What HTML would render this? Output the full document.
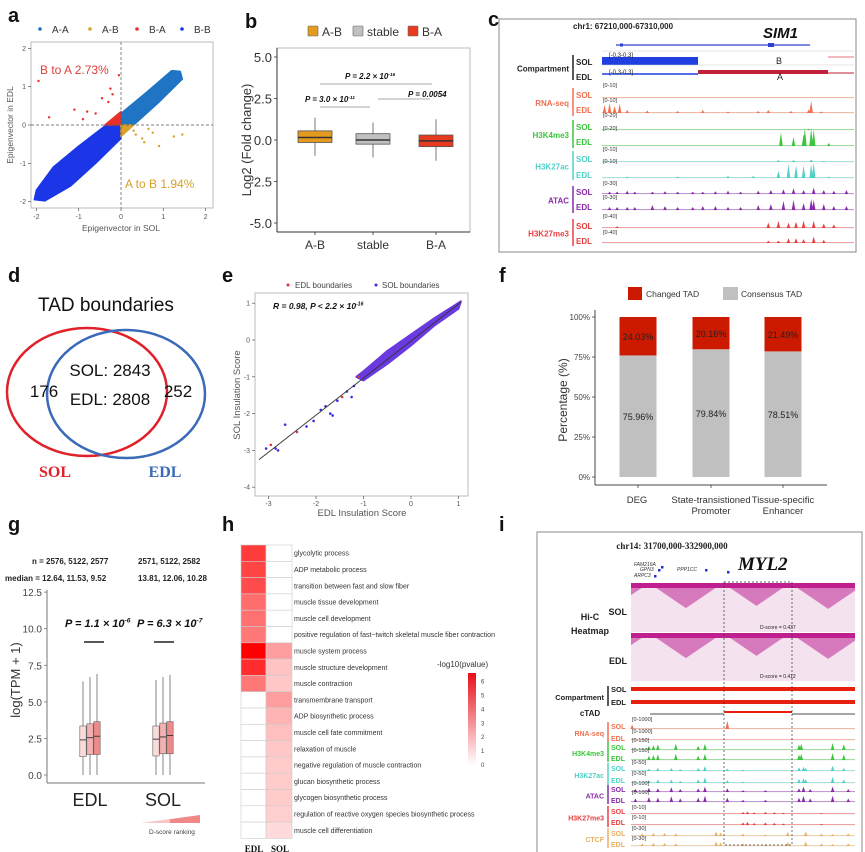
<!DOCTYPE html>
<html><head><meta charset="utf-8">
<style>
html,body{margin:0;padding:0;background:#fff;}
svg{display:block;font-family:"Liberation Sans",Arial,sans-serif;}
</style></head>
<body>
<svg id="fig" width="865" height="852" viewBox="0 0 865 852" xmlns="http://www.w3.org/2000/svg"></svg>
<script>
// ---------- DATA ----------
const aCategories = ['A-A','A-B','B-A','B-B'];
const aColors = ['#1f74c4','#d9a02a','#e8302a','#1a36e6'];
const aBandAA = [[0,0],[0,0.3],[0.6,0.85],[1.2,1.42],[1.4,1.4],[1.45,1.2],[0.9,0.6],[0.3,0]];
const aBandBB = [[0,0],[-0.35,0],[-1.0,-0.55],[-1.6,-1.1],[-2.0,-1.7],[-2.05,-1.95],[-1.8,-1.98],[-1.2,-1.6],[-0.6,-1.0],[0,-0.35]];
const aBandBA = [[0,0],[-0.38,0],[0,0.35]];
const aBandAB = [[0,0],[0.3,0],[0,-0.3]];
const aOutBAx = [-1.95,-1.7,-1.1,-0.8,-0.6,-0.3,-0.2,-0.05,-0.9,-0.45,-0.25];
const aOutBAy = [1.15,0.2,0.4,0.35,0.3,0.6,0.8,1.3,0.15,0.7,0.95];
const aOutABx = [0.35,0.5,0.55,0.75,0.9,1.25,1.45,0.3,0.65];
const aOutABy = [-0.25,-0.35,-0.45,-0.2,-0.55,-0.3,-0.25,-0.15,-0.1];
const aTicks = [-2,-1,0,1,2];
const bCategories = ['A-B','stable','B-A'];
const bColors = ['#e39a1e','#c0c0c0','#e83a20'];
const bQ1 = [-0.15,-0.25,-0.4];
const bMed = [0.15,0.0,-0.05];
const bQ3 = [0.55,0.38,0.3];
const bLo = [-0.95,-1.05,-1.25];
const bHi = [1.35,1.05,1.25];
const bTicks = [5.0,2.5,0.0,-2.5,-5.0];
const eTicksX = [-3,-2,-1,0,1];
const eTicksY = [1,0,-1,-2,-3,-4];
const eBand = [[-1.0,-0.85],[-0.5,-0.3],[0,0.15],[0.5,0.6],[1.05,1.05],[1.0,0.85],[0.5,0.4],[0,-0.15],[-0.5,-0.65],[-1.0,-1.1],[-1.15,-1.0]];
const eOutX = [-3.05,-2.95,-2.85,-2.65,-2.4,-2.2,-2.05,-1.9,-1.8,-1.65,-1.55,-1.45,-1.35,-1.2,-2.8,-1.7,-1.25,-1.1];
const eOutY = [-2.95,-2.85,-2.95,-2.3,-2.5,-2.35,-2.2,-1.9,-1.8,-2.05,-1.65,-1.55,-1.4,-1.25,-3.0,-2.0,-1.55,-1.0];
const eOutC = [1,0,1,1,0,1,1,1,1,1,1,0,1,1,1,1,1,0];
const fCategories = [['DEG'],['State-transistioned','Promoter'],['Tissue-specific','Enhancer']];
const fChanged = [24.03,20.16,21.49];
const fConsensus = [75.96,79.84,78.51];
const fTicks = [100,75,50,25,0];
const gGroups = ['EDL','SOL'];
const gQ1 = [[1.25,1.4,1.4],[1.3,1.45,1.45]];
const gMed = [[2.4,2.55,2.65],[2.45,2.6,2.7]];
const gQ3 = [[3.35,3.5,3.65],[3.35,3.55,3.65]];
const gHi = [[6.4,6.7,6.9],[6.5,6.7,6.85]];
const gTicks = [12.5,10.0,7.5,5.0,2.5,0.0];
const hTerms = ['glycolytic process','ADP metabolic process','transition between fast and slow fiber','muscle tissue development','muscle cell development','positive regulation of fast−twitch skeletal muscle fiber contraction','muscle system process','muscle structure development','muscle contraction','transmembrane transport','ADP biosynthetic process','muscle cell fate commitment','relaxation of muscle','negative regulation of muscle contraction','glucan biosynthetic process','glycogen biosynthetic process','regulation of reactive oxygen species biosynthetic process','muscle cell differentiation'];
const hEDL = [5.2,5.0,4.8,3.9,3.8,3.6,6.8,5.6,3.6,0,0,0,0,0,0,0,0,0];
const hSOL = [0,0,0,0,0,0,2.6,1.6,1.5,2.6,2.0,1.7,1.5,1.4,1.4,1.4,1.3,1.0];
const hScaleTicks = [6,5,4,3,2,1,0];
const cRNA = [[0.01,0.8],[0.03,1],[0.05,0.7],[0.07,0.9],[0.1,0.3],[0.18,0.25],[0.3,0.2],[0.4,0.3],[0.5,0.15],[0.62,0.2],[0.66,0.3],[0.75,0.2],[0.82,0.35],[0.83,1.2],[0.87,0.15]];
const cK4 = [[0.71,0.9],[0.76,0.6],[0.8,0.8],[0.805,1.2],[0.83,1.2],[0.84,1.1],[0.9,0.2]];
const cK27sol = [[0.7,0.2],[0.76,0.2],[0.83,0.25],[0.88,0.1]];
const cK27 = [[0.1,0.1],[0.3,0.1],[0.5,0.15],[0.6,0.15],[0.7,0.5],[0.74,1.0],[0.77,0.9],[0.8,0.9],[0.83,1.0],[0.84,1.1],[0.9,0.1]];
const cATACsol = [[0.03,0.3],[0.06,0.3],[0.1,0.4],[0.13,0.3],[0.2,0.3],[0.25,0.35],[0.3,0.3],[0.36,0.3],[0.4,0.3],[0.45,0.35],[0.5,0.4],[0.55,0.3],[0.62,0.4],[0.67,0.5],[0.72,0.6],[0.76,0.7],[0.8,0.5],[0.84,0.8],[0.88,0.5],[0.92,0.4],[0.97,0.5]];
const cATAC = [[0.03,0.3],[0.06,0.3],[0.1,0.3],[0.13,0.3],[0.2,0.5],[0.25,0.4],[0.3,0.3],[0.36,0.3],[0.4,0.4],[0.45,0.4],[0.5,0.3],[0.55,0.3],[0.62,0.5],[0.67,0.6],[0.72,0.9],[0.76,1.0],[0.8,0.7],[0.83,1.1],[0.84,1.0],[0.88,0.6],[0.92,0.4],[0.97,0.4]];
const cK27me3sol = [[0.06,0.2],[0.66,0.6],[0.7,0.8],[0.74,0.6],[0.77,0.7],[0.8,0.8],[0.84,0.8],[0.88,0.5],[0.92,0.4]];
const cK27me3 = [[0.66,0.3],[0.7,0.3],[0.74,0.6],[0.77,0.6],[0.8,0.5],[0.84,0.8],[0.88,0.4]];
const iHiCDomainsStart = [-0.25,0.08,0.41,0.71];
const iHiCDomainsEnd = [0.08,0.41,0.71,1.05];
const iRNA = [[0.005,0.6],[0.43,1.2]];
const iK4 = [[0.08,0.6],[0.1,0.7],[0.12,0.8],[0.2,0.9],[0.3,0.6],[0.33,0.9],[0.75,0.8],[0.76,0.9],[0.9,1.0],[0.95,0.8]];
const iK27 = [[0.08,0.4],[0.12,0.5],[0.18,0.5],[0.22,0.3],[0.3,0.5],[0.33,0.8],[0.43,0.4],[0.5,0.2],[0.75,0.6],[0.77,0.7],[0.78,0.5],[0.9,0.9],[0.95,0.5]];
const iATAC = [[0.02,0.5],[0.08,0.7],[0.12,0.6],[0.18,0.8],[0.22,0.5],[0.3,0.6],[0.33,0.9],[0.43,0.6],[0.5,0.3],[0.6,0.3],[0.75,0.6],[0.77,0.9],[0.8,0.5],[0.9,0.9],[0.97,0.5]];
const iK27me3 = [[0.5,0.5],[0.52,0.6],[0.55,0.4],[0.6,0.5],[0.64,0.4],[0.68,0.3],[0.85,0.2]];
const iCTCF = [[0.05,0.5],[0.1,0.6],[0.15,0.6],[0.2,0.5],[0.38,0.9],[0.4,0.7],[0.5,0.5],[0.6,0.3],[0.7,0.8],[0.78,0.9],[0.85,0.5],[0.9,0.4],[0.97,0.5]];

// ---------- HELPERS ----------
const svg = document.getElementById('fig');
const NS = 'http://www.w3.org/2000/svg';
function el(tag, attrs, name, parent){
  const e = document.createElementNS(NS, tag);
  for (const k in attrs) e.setAttribute(k, attrs[k]);
  
  
  (parent||svg).appendChild(e);
  return e;
}
function tx(x,y,s,size,name,opt){
  opt=opt||{};
  const a={x:x,y:y,'font-size':size,fill:opt.fill||'#222'};
  if(opt.anchor)a['text-anchor']=opt.anchor;
  if(opt.weight)a['font-weight']=opt.weight;
  if(opt.style)a['font-style']=opt.style;
  if(opt.family)a['font-family']=opt.family;
  if(opt.rot)a.transform='rotate('+opt.rot+' '+x+' '+y+')';
  const t=el('text',a,name,opt.parent);
  t.textContent=s;
  if(opt.sup){
    const sp=el('tspan',{dy:-size*0.4,'font-size':size*0.6},name+'-exponent',t);
    sp.textContent=opt.sup;
  }
  return t;
}
function line(x1,y1,x2,y2,stroke,w,name,dash){
  const a={x1:x1,y1:y1,x2:x2,y2:y2,stroke:stroke,'stroke-width':w};
  if(dash)a['stroke-dasharray']=dash;
  return el('line',a,name);
}
function label(s,x,y){ tx(x,y,s,20,'panel-label-'+s,{weight:'bold',fill:'#111'}); }
const defs=el('defs',{},'defs');

// ---------- PANEL A ----------
label('a',8,22);
const ax = v=>121+v*42.3, ay = v=>125-v*38.3;
el('rect',{x:31,y:42,width:182,height:166,fill:'#fff',stroke:'#bbb'},'a-plot-frame');
function band(pts,color,name){ el('polygon',{points:pts.map(p=>ax(p[0])+','+ay(p[1])).join(' '),fill:color,stroke:color,'stroke-width':1.5,'stroke-linejoin':'round'},name); }
band(aBandAA,aColors[0],'a-aa-points');
band(aBandBB,aColors[3],'a-bb-points');
band(aBandBA,aColors[2],'a-ba-points');
band(aBandAB,aColors[1],'a-ab-points');
aOutBAx.forEach((v,i)=>{ el('circle',{cx:ax(v),cy:ay(aOutBAy[i]),r:1.2,fill:aColors[2]},'a-ba-point'); });
aOutABx.forEach((v,i)=>{ el('circle',{cx:ax(v),cy:ay(aOutABy[i]),r:1.2,fill:aColors[1]},'a-ab-point'); });
line(31,ay(0),213,ay(0),'#555',0.7,'a-zero-h','3,2');
line(ax(0),42,ax(0),208,'#555',0.7,'a-zero-v','3,2');
aTicks.forEach(v=>{
  line(ax(v),208,ax(v),211,'#555',0.7,'a-x-tick');
  tx(ax(v),219,String(v),7,'a-x-tick-label',{anchor:'middle',fill:'#555'});
  line(28,ay(v),31,ay(v),'#555',0.7,'a-y-tick');
  tx(26,ay(v)+2.5,String(v),7,'a-y-tick-label',{anchor:'end',fill:'#555'});
});
tx(121,231,'Epigenvector in SOL',8.5,'a-x-axis-title',{anchor:'middle',fill:'#555'});
tx(13,125,'Epigenvector in EDL',8.5,'a-y-axis-title',{anchor:'middle',fill:'#555',rot:-90});
tx(40,74,'B to A 2.73%',12,'a-annot-b-to-a',{fill:'#e0403a'});
tx(125,188,'A to B 1.94%',12,'a-annot-a-to-b',{fill:'#d9a02a'});
const aLegX=[40,90,137,182];
aCategories.forEach((c,i)=>{
  el('circle',{cx:aLegX[i],cy:29,r:1.8,fill:aColors[i]},'a-legend-dot');
  tx(aLegX[i]+12,33,c,10,'a-legend-entry',{fill:'#333'});
});

// ---------- PANEL B ----------
label('b',245,28);
const by = v=>140-v*16.6;
const bx = [315,373,436];
el('rect',{x:277,y:48,width:193,height:184,fill:'#fff',stroke:'#bbb'},'b-plot-frame');
line(277,48,277,232,'#333',1,'b-y-axis');
line(277,232,470,232,'#333',1,'b-x-axis');
bTicks.forEach(v=>{
  line(274,by(v),277,by(v),'#333',0.8,'b-y-tick');
  tx(272,by(v)+5,v.toFixed(1),13,'b-y-tick-label',{anchor:'end',fill:'#333'});
});
bCategories.forEach((c,i)=>{
  line(bx[i],232,bx[i],235,'#333',0.8,'b-x-tick');
  tx(bx[i],249,c,12,'b-x-tick-label',{anchor:'middle',fill:'#333'});
  line(bx[i],by(bHi[i]),bx[i],by(bLo[i]),'#555',0.8,'b-whisker');
  el('rect',{x:bx[i]-17,y:by(bQ3[i]),width:34,height:by(bQ1[i])-by(bQ3[i]),fill:bColors[i],stroke:'#555','stroke-width':0.8},'b-box-'+c);
  line(bx[i]-17,by(bMed[i]),bx[i]+17,by(bMed[i]),'#333',1.5,'b-median');
});
tx(251,140,'Log2 (Fold change)',13,'b-y-axis-title',{anchor:'middle',fill:'#333',rot:-90});
const bLegX=[313,358,413], bLegL=['A-B','stable','B-A'];
bLegL.forEach((c,i)=>{
  el('rect',{x:bLegX[i]-5,y:26,width:10,height:10,rx:1,fill:bColors[i],stroke:'#666','stroke-width':0.6},'b-legend-swatch');
  tx(bLegX[i]+9,36,c,12,'b-legend-entry',{fill:'#333'});
});
line(320,84,432,84,'#aaa',1,'b-sig-line');
line(320,107,370,107,'#aaa',1,'b-sig-line');
line(378,99,430,99,'#aaa',1,'b-sig-line');
tx(345,79,'P = 2.2 × 10',8,'b-pvalue',{weight:'bold',style:'italic',fill:'#111',sup:'-16'});
tx(305,102,'P = 3.0 × 10',8,'b-pvalue',{weight:'bold',style:'italic',fill:'#111',sup:'-11'});
tx(408,97,'P = 0.0054',8,'b-pvalue',{weight:'bold',style:'italic',fill:'#111'});

// ---------- TRACK HELPER ----------
function track(x0,x1,y,h,color,peaks,name,lbl){
  line(x0,y,x1,y,'#ddd',0.6,name+'-baseline');
  if(lbl) tx(x0+1,y-h-1,lbl,5.5,name+'-range',{fill:'#333'});
  const w=x1-x0;
  peaks.forEach(p=>{ el('polygon',{points:(x0+p[0]*w-1.8)+','+y+' '+(x0+p[0]*w)+','+(y-Math.min(p[1],1.2)*h)+' '+(x0+p[0]*w+1.8)+','+y,fill:color},name+'-peak'); });
  el('line',{x1:x0,y1:y-0.6,x2:x1,y2:y-0.6,stroke:color,'stroke-width':0.8,'stroke-opacity':0.6},name+'-signal');
}
function group(xBar,yTop,yBot,labelText,color,rows,xLbl,name){
  line(xBar,yTop,xBar,yBot,color,1.5,name+'-bracket');
  tx(xBar-4,(yTop+yBot)/2+4,labelText,xLbl,name+'-label',{anchor:'end',weight:'bold',fill:color});
  rows.forEach(r=>tx(xBar+3,r[1],r[0],xLbl,name+'-'+r[0].toLowerCase(),{weight:'bold',fill:color}));
}

// ---------- PANEL C ----------
tx(488,26,'c',20,'panel-label-c',{weight:'bold',fill:'#111'});
el('rect',{x:499,y:19,width:357,height:233,fill:'none',stroke:'#888','stroke-width':1},'c-frame');
tx(573,29,'chr1: 67210,000-67310,000',8,'c-locus',{weight:'bold',fill:'#222'});
tx(763,38,'SIM1',15,'c-gene-name',{weight:'bold',style:'italic',fill:'#111'});
line(616,45,810,45,'#3040d0',1.2,'c-gene-model');
el('rect',{x:768,y:43,width:6,height:4,fill:'#3040d0'},'c-gene-exon');
el('rect',{x:620,y:43.5,width:3,height:3,fill:'#3040d0'},'c-gene-exon');
const cx0=602,cx1=854;
line(cx0,51,cx1,51,'#ccc',0.6,'c-comp-sol-top');
el('rect',{x:602,y:57,width:96,height:8,fill:'#1f3fe0'},'c-comp-sol-b');
line(828,57,854,57,'#e04050',0.8,'c-comp-sol-a');
line(cx0,65,cx1,65,'#ccc',0.6,'c-comp-sol-base');
tx(609,57,'[-0.3-0.3]',6,'c-comp-range',{fill:'#222'});
tx(776,64,'B',9,'c-comp-b-label',{fill:'#222'});
line(602,74,698,74,'#1f3fe0',1.5,'c-comp-edl-b');
el('rect',{x:698,y:70,width:130,height:4,fill:'#c0203a'},'c-comp-edl-a');
line(828,73,854,73,'#c0203a',1,'c-comp-edl-a2');
tx(609,74,'[-0.3-0.3]',6,'c-comp-range',{fill:'#222'});
tx(777,80,'A',9,'c-comp-a-label',{fill:'#222'});
group(573,55,80,'Compartment','#222',[['SOL',65],['EDL',80]],8,'c-compartment');
track(cx0,cx1,98,10,'#f07050',[],'c-rna-sol','[0-10]');
track(cx0,cx1,113,10,'#f07050',cRNA,'c-rna-edl','[0-10]');
group(573,88,116,'RNA-seq','#f07050',[['SOL',98],['EDL',113]],8,'c-rnaseq');
track(cx0,cx1,130,12,'#3cc43c',[[0.82,0.1]],'c-k4-sol','[0-20]');
track(cx0,cx1,146,15,'#3cc43c',cK4,'c-k4-edl','[0-20]');
group(573,120,148,'H3K4me3','#3cc43c',[['SOL',130],['EDL',145]],8,'c-h3k4me3');
track(cx0,cx1,162,10,'#50d0c8',cK27sol,'c-k27-sol','[0-10]');
track(cx0,cx1,178,14,'#50d0c8',cK27,'c-k27-edl','[0-10]');
group(573,151,180,'H3K27ac','#50d0c8',[['SOL',162],['EDL',178]],8,'c-h3k27ac');
track(cx0,cx1,194,8,'#8a2aa8',cATACsol,'c-atac-sol','[0-30]');
track(cx0,cx1,210,10,'#8a2aa8',cATAC,'c-atac-edl','[0-30]');
group(573,186,213,'ATAC','#8a2aa8',[['SOL',195],['EDL',210]],8,'c-atac');
track(cx0,cx1,228,9,'#e84040',cK27me3sol,'c-k27me3-sol','[0-40]');
track(cx0,cx1,243,8,'#e84040',cK27me3,'c-k27me3-edl','[0-40]');
group(573,219,246,'H3K27me3','#e84040',[['SOL',229],['EDL',244]],8,'c-h3k27me3');

// ---------- PANEL D ----------
label('d',8,282);
tx(38,311,'TAD boundaries',19,'d-title',{fill:'#111'});
el('ellipse',{cx:87,cy:392,rx:80,ry:64,fill:'none',stroke:'#e0202a','stroke-width':2.5},'d-sol-circle');
el('ellipse',{cx:126,cy:394,rx:79,ry:64,fill:'none',stroke:'#3a6ab8','stroke-width':2.5},'d-edl-circle');
tx(44,397,'176',17,'d-sol-only',{anchor:'middle',fill:'#111'});
tx(110,376,'SOL: 2843',17,'d-overlap-sol',{anchor:'middle',fill:'#111'});
tx(110,405,'EDL: 2808',17,'d-overlap-edl',{anchor:'middle',fill:'#111'});
tx(178,397,'252',17,'d-edl-only',{anchor:'middle',fill:'#111'});
tx(55,477,'SOL',16,'d-sol-label',{anchor:'middle',weight:'bold',fill:'#e0202a',family:'Liberation Serif, serif'});
tx(165,477,'EDL',16,'d-edl-label',{anchor:'middle',weight:'bold',fill:'#3a6ab8',family:'Liberation Serif, serif'});

// ---------- PANEL E ----------
label('e',222,282);
const ex=v=>411+v*47.5, ey=v=>340-v*36.8;
el('rect',{x:255,y:293,width:213,height:203,fill:'#fff',stroke:'#bbb'},'e-plot-frame');
el('polygon',{points:eBand.map(p=>ex(p[0])+','+ey(p[1])).join(' '),fill:'#6a3ae0',stroke:'#6a3ae0','stroke-width':2,'stroke-linejoin':'round'},'e-dense-points');
eOutX.forEach((v,i)=>{ el('circle',{cx:ex(v),cy:ey(eOutY[i]),r:1.3,fill:eOutC[i]?'#3a2ee0':'#e03040'},'e-point'); });
line(ex(-3.2),ey(-3.25),ex(1.05),ey(1.03),'#333',0.9,'e-fit-line');
eTicksX.forEach(v=>{ line(ex(v),496,ex(v),499,'#555',0.7,'e-x-tick'); tx(ex(v),506,String(v),7,'e-x-tick-label',{anchor:'middle',fill:'#555'}); });
eTicksY.forEach(v=>{ line(252,ey(v),255,ey(v),'#555',0.7,'e-y-tick'); tx(250,ey(v)+2.5,String(v),7,'e-y-tick-label',{anchor:'end',fill:'#555'}); });
tx(362,516,'EDL Insulation Score',9.5,'e-x-axis-title',{anchor:'middle',fill:'#555'});
tx(240,395,'SOL Insulation Score',9.5,'e-y-axis-title',{anchor:'middle',fill:'#555',rot:-90});
tx(273,309,'R = 0.98, P < 2.2 × 10',8.5,'e-stat',{weight:'bold',style:'italic',fill:'#111',sup:'-16'});
el('circle',{cx:288,cy:285,r:1.5,fill:'#e03040'},'e-legend-dot');
tx(295,288,'EDL boundaries',8,'e-legend-edl',{fill:'#444'});
el('circle',{cx:376,cy:285,r:1.5,fill:'#3a2ee0'},'e-legend-dot');
tx(382,288,'SOL boundaries',8,'e-legend-sol',{fill:'#444'});

// ---------- PANEL F ----------
tx(499,282,'f',20,'panel-label-f',{weight:'bold',fill:'#111'});
const fy=v=>477-v*1.6;
const fx=[638,711,783];
line(595,310,595,485,'#444',1,'f-y-axis');
line(595,485,827,485,'#444',1,'f-x-axis');
fTicks.forEach(v=>{ line(592,fy(v),595,fy(v),'#444',0.8,'f-y-tick'); tx(590,fy(v)+3,v+'%',8,'f-y-tick-label',{anchor:'end',fill:'#444'}); });
fCategories.forEach((c,i)=>{
  el('rect',{x:fx[i]-18.5,y:fy(fConsensus[i]),width:37,height:fy(0)-fy(fConsensus[i]),fill:'#c0c0c0'},'f-bar-consensus');
  el('rect',{x:fx[i]-18.5,y:fy(100),width:37,height:fy(100-fChanged[i])-fy(100),fill:'#cc1a00'},'f-bar-changed');
  tx(fx[i],fy(100-fChanged[i]/2)+4,fChanged[i].toFixed(2)+'%',9,'f-value-changed',{anchor:'middle',fill:'#222'});
  tx(fx[i],fy(fConsensus[i]/2)+4,fConsensus[i].toFixed(2)+'%',9,'f-value-consensus',{anchor:'middle',fill:'#222'});
  line(fx[i],485,fx[i],488,'#444',0.8,'f-x-tick');
});
tx(637,503,'DEG',9.5,'f-x-label',{anchor:'middle',fill:'#333'});
tx(711,503,'State-transistioned',9.5,'f-x-label',{anchor:'middle',fill:'#333'});
tx(711,514,'Promoter',9.5,'f-x-label',{anchor:'middle',fill:'#333'});
tx(783,503,'Tissue-specific',9.5,'f-x-label',{anchor:'middle',fill:'#333'});
tx(783,514,'Enhancer',9.5,'f-x-label',{anchor:'middle',fill:'#333'});
tx(567,400,'Percentage (%)',12,'f-y-axis-title',{anchor:'middle',fill:'#333',rot:-90});
el('rect',{x:628,y:287,width:14,height:13,fill:'#cc1a00'},'f-legend-changed-swatch');
tx(646,297,'Changed TAD',8.5,'f-legend-changed',{fill:'#333'});
el('rect',{x:723,y:287,width:15,height:13,fill:'#c0c0c0'},'f-legend-consensus-swatch');
tx(741,297,'Consensus TAD',8.5,'f-legend-consensus',{fill:'#333'});

// ---------- PANEL G ----------
label('g',8,531);
tx(32,564,'n =  2576, 5122, 2577',8,'g-n-edl',{weight:'bold',fill:'#222'});
tx(138,564,'2571, 5122, 2582',8,'g-n-sol',{weight:'bold',fill:'#222'});
tx(5,581,'median = 12.64, 11.53, 9.52',8,'g-median-edl',{weight:'bold',fill:'#222'});
tx(138,581,'13.81, 12.06, 10.28',8,'g-median-sol',{weight:'bold',fill:'#222'});
const gy=v=>775-v*14.63;
line(47,590,47,783,'#777',1,'g-y-axis');
line(47,783,205,783,'#777',1,'g-x-axis');
gTicks.forEach(v=>{ line(44,gy(v),47,gy(v),'#777',0.8,'g-y-tick'); tx(42,gy(v)+4,v.toFixed(1),10,'g-y-tick-label',{anchor:'end',fill:'#444'}); });
tx(20,680,'log(TPM + 1)',13,'g-y-axis-title',{anchor:'middle',fill:'#333',rot:-90});
const gCenters=[90,163], gFill=['#fbdada','#f5b0b0','#ef8a8a'];
gGroups.forEach((g,gi)=>{
  tx(gCenters[gi],806,g,18,'g-x-label',{anchor:'middle',fill:'#222'});
  for(let k=0;k<3;k++){
    const x=gCenters[gi]-7+k*7;
    line(x,gy(gHi[gi][k]),x,gy(0),'#666',0.8,'g-whisker');
    el('rect',{x:x-3.2,y:gy(gQ3[gi][k]),width:6.4,height:gy(gQ1[gi][k])-gy(gQ3[gi][k]),fill:gFill[k],stroke:'#666','stroke-width':0.6},'g-box');
    line(x-3.2,gy(gMed[gi][k]),x+3.2,gy(gMed[gi][k]),'#333',0.9,'g-median');
  }
});
tx(65,627,'P = 1.1 × 10',11,'g-pvalue-edl',{weight:'bold',style:'italic',fill:'#111',sup:'-6'});
tx(137,627,'P = 6.3 × 10',11,'g-pvalue-sol',{weight:'bold',style:'italic',fill:'#111',sup:'-7'});
line(84,642,104,642,'#222',1.5,'g-sig-line');
line(154,642,174,642,'#222',1.5,'g-sig-line');
el('polygon',{points:'142,823 200,815 200,823',fill:'#f08888'},'g-dscore-ramp');
el('polygon',{points:'142,823 170,819 170,823',fill:'#f8c8c8'},'g-dscore-ramp-light');
tx(172,834,'D-score ranking',6.5,'g-dscore-label',{anchor:'middle',fill:'#444'});

// ---------- PANEL H ----------
label('h',222,531);
const hTop=545, hRow=16.3;
function heatColor(v){ const t=Math.min(v/6.8,1); const g=Math.round(255-t*255); return 'rgb(255,'+g+','+g+')'; }
hTerms.forEach((t,i)=>{
  const y=hTop+i*hRow;
  el('rect',{x:241,y:y,width:25,height:hRow,fill:heatColor(hEDL[i]),stroke:'#ccc','stroke-width':0.6},'h-cell-edl');
  el('rect',{x:266,y:y,width:26,height:hRow,fill:heatColor(hSOL[i]),stroke:'#ccc','stroke-width':0.6},'h-cell-sol');
  tx(294,y+hRow/2+2.5,t,7,'h-term-label',{fill:'#333'});
});
tx(254,852,'EDL',9,'h-col-edl',{anchor:'middle',weight:'bold',fill:'#111',family:'Liberation Serif, serif'});
tx(280,852,'SOL',9,'h-col-sol',{anchor:'middle',weight:'bold',fill:'#111',family:'Liberation Serif, serif'});
const grad=el('linearGradient',{id:'hgrad',x1:0,y1:1,x2:0,y2:0},'h-gradient',defs);
el('stop',{offset:'0','stop-color':'#ffffff'},'h-stop',grad);
el('stop',{offset:'1','stop-color':'#e8101a'},'h-stop',grad);
el('rect',{x:468,y:673,width:8,height:92,fill:'url(#hgrad)'},'h-colorbar');
tx(437,667,'-log10(pvalue)',8,'h-colorbar-title',{fill:'#333'});
hScaleTicks.forEach(v=>{ tx(481,765-v*13.9+2,String(v),6,'h-colorbar-tick',{fill:'#444'}); });

// ---------- PANEL I ----------
tx(499,531,'i',20,'panel-label-i',{weight:'bold',fill:'#111'});
el('rect',{x:537,y:532,width:325,height:325,fill:'none',stroke:'#888','stroke-width':1},'i-frame');
tx(672,549,'chr14: 31700,000-332900,000',9,'i-locus',{anchor:'middle',weight:'bold',fill:'#222',family:'Liberation Serif, serif'});
tx(738,570,'MYL2',19,'i-gene-name',{weight:'bold',style:'italic',fill:'#111',family:'Liberation Serif, serif'});
tx(634,566,'FAM216A',5,'i-gene-fam216a',{style:'italic',fill:'#333'});
tx(640,571,'GPN3',5,'i-gene-gpn3',{style:'italic',fill:'#333'});
tx(634,577,'ARPC3',5,'i-gene-arpc3',{style:'italic',fill:'#333'});
tx(677,571,'PPP1CC',5,'i-gene-ppp1cc',{style:'italic',fill:'#333'});
[[661,566],[658,569],[654,575],[705,569],[727,571]].forEach(p=>el('rect',{x:p[0],y:p[1],width:2.5,height:2.5,fill:'#2030d0'},'i-gene-marker'));
const hx0=631,hx1=855;
function hic(y0,y1,name,cid){
  const cp=el('clipPath',{id:cid},name+'-clip',defs);
  el('rect',{x:hx0,y:y0,width:hx1-hx0,height:y1-y0},name+'-clip-rect',cp);
  const g=el('g',{'clip-path':'url(#'+cid+')'},name,svg);
  el('rect',{x:hx0,y:y0,width:hx1-hx0,height:y1-y0,fill:'#f4e2ee'},name+'-bg',g);
  iHiCDomainsStart.forEach((s,i)=>{
    const sa=hx0+s*(hx1-hx0), b=hx0+iHiCDomainsEnd[i]*(hx1-hx0), m=(sa+b)/2;
    const d=(b-sa)/2*0.68;
    el('polygon',{points:sa+','+y0+' '+b+','+y0+' '+m+','+(y0+d),fill:'#d060b0','fill-opacity':0.8},name+'-tad',g);
  });
  el('rect',{x:hx0,y:y0,width:hx1-hx0,height:5,fill:'#c0208f'},name+'-diagonal',g);
}
hic(583,632,'i-hic-sol','clipsol');
hic(633,681,'i-hic-edl','clipedl');
tx(760,629,'D-score = 0.437',5,'i-dscore-sol',{fill:'#222'});
tx(760,678,'D-score = 0.412',5,'i-dscore-edl',{fill:'#222'});
tx(590,620,'Hi-C',9,'i-hic-label',{anchor:'middle',weight:'bold',fill:'#222'});
tx(590,634,'Heatmap',9,'i-hic-label2',{anchor:'middle',weight:'bold',fill:'#222'});
tx(627,615,'SOL',9,'i-hic-sol-label',{anchor:'end',weight:'bold',fill:'#222'});
tx(627,664,'EDL',9,'i-hic-edl-label',{anchor:'end',weight:'bold',fill:'#222'});
const ix0=631,ix1=855;
el('rect',{x:ix0,y:687,width:ix1-ix0,height:4,fill:'#e82010'},'i-comp-sol');
el('rect',{x:ix0,y:700,width:ix1-ix0,height:4,fill:'#e82010'},'i-comp-edl');
group(608,686,706,'Compartment','#222',[['SOL',692],['EDL',705]],7.5,'i-compartment');
tx(590,716,'cTAD',8,'i-ctad-label',{anchor:'middle',weight:'bold',fill:'#222'});
line(650,714,724,714,'#888',1.5,'i-ctad-1');
el('rect',{x:724,y:711,width:68,height:2,fill:'#e82010'},'i-ctad-2');
line(792,714,855,714,'#888',1.5,'i-ctad-3');
track(ix0,ix1,729,7,'#f07050',iRNA,'i-rna-sol','[0-1000]');
track(ix0,ix1,740,6,'#f07050',[],'i-rna-edl','[0-1000]');
group(608,722,742,'RNA-seq','#f07050',[['SOL',729],['EDL',741]],7,'i-rnaseq');
track(ix0,ix1,750,7,'#3cc43c',iK4,'i-k4-sol','[0-150]');
track(ix0,ix1,760,7,'#3cc43c',iK4,'i-k4-edl','[0-150]');
group(608,742,762,'H3K4me3','#3cc43c',[['SOL',750],['EDL',761]],7,'i-h3k4me3');
track(ix0,ix1,771,6,'#50d0c8',iK27,'i-k27-sol','[0-50]');
track(ix0,ix1,783,7,'#50d0c8',iK27,'i-k27-edl','[0-50]');
group(608,763,785,'H3K27ac','#50d0c8',[['SOL',771],['EDL',783]],7,'i-h3k27ac');
track(ix0,ix1,792,6,'#8a2aa8',iATAC,'i-atac-sol','[0-100]');
track(ix0,ix1,802,7,'#8a2aa8',iATAC,'i-atac-edl','[0-100]');
group(608,785,804,'ATAC','#8a2aa8',[['SOL',792],['EDL',803]],7,'i-atac');
track(ix0,ix1,814,4,'#e84040',iK27me3,'i-k27me3-sol','[0-10]');
track(ix0,ix1,825,5,'#e84040',iK27me3,'i-k27me3-edl','[0-10]');
group(608,806,827,'H3K27me3','#e84040',[['SOL',814],['EDL',825]],7,'i-h3k27me3');
track(ix0,ix1,836,5,'#e8b060',iCTCF,'i-ctcf-sol','[0-30]');
track(ix0,ix1,846,5,'#e8b060',iCTCF,'i-ctcf-edl','[0-30]');
group(608,828,848,'CTCF','#e8b060',[['SOL',836],['EDL',847]],7,'i-ctcf');
el('rect',{x:724,y:582,width:68,height:263,fill:'none',stroke:'#333','stroke-width':0.7,'stroke-dasharray':'2,2'},'i-focus-box');
</script>
</body></html>
